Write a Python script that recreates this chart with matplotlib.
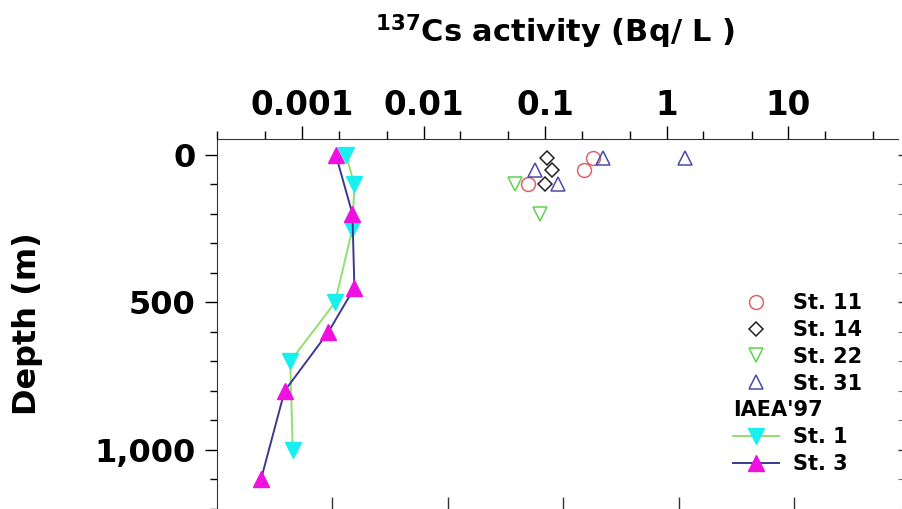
import numpy as np
from matplotlib import pyplot as plt
from matplotlib.lines import Line2D
from matplotlib.ticker import FixedLocator, LogLocator, MultipleLocator, NullFormatter

plt.rcParams['font.family'] = ['DejaVu Sans']
plt.rcParams['mathtext.default'] = 'regular'

# our stations (Bq/L vs depth m)
st11_x = [0.25, 0.21, 0.073]
st11_d = [10, 50, 100]
st14_x = [0.103, 0.113, 0.10]
st14_d = [10, 50, 100]
st22_x = [0.057, 0.091]
st22_d = [100, 200]
st31_x = [1.41, 0.30, 0.082, 0.128]
st31_d = [10, 10, 50, 100]

# IAEA'97 profiles
iaea1_x = [0.0023, 0.0027, 0.0026, 0.00187, 0.00080, 0.00084]
iaea1_d = [0, 100, 250, 500, 700, 1000]
iaea3_x = [0.0019, 0.0026, 0.0027, 0.00165, 0.00072, 0.00046]
iaea3_d = [0, 200, 450, 600, 800, 1100]

xticks = [0.001, 0.01, 0.1, 1, 10]
xticklabels = ['0.001', '0.01', '0.1', '1', '10']
yticks = [0, 500, 1000]
yticklabels = ['0', '500', '1,000']

W, H = 903, 509
fig = plt.figure(figsize=(W / 100, H / 100), dpi=100)
rect = [217 / W, 0, (898 - 217) / W, (509 - 139) / H]
ax = fig.add_axes(rect)

ax.plot(st11_x, st11_d, 'o', ms=10, mfc='none', mec='#d9646e', mew=1.1, label='St. 11')
ax.plot(st14_x, st14_d, 'D', ms=7, mfc='none', mec='#222222', mew=1.1, label='St. 14')
ax.plot(st22_x, st22_d, 'v', ms=10.5, mfc='none', mec='#5fd24f', mew=1.1, label='St. 22')
ax.plot(st31_x, st31_d, '^', ms=10.5, mfc='none', mec='#4b4ba6', mew=1.1, label='St. 31')
ax.add_line(Line2D([], [], ls='none', label=' '))
ax.plot(iaea1_x, iaea1_d, '-v', color='#8fe070', lw=1.4, ms=12, mfc='#18f0f0', mec='#18f0f0', label='St. 1')
ax.plot(iaea3_x, iaea3_d, '-^', color='#3a3a8c', lw=1.4, ms=12, mfc='#f010e0', mec='#f010e0', label='St. 3')

ax.set_xscale('log')
ax.set_xlim(2e-4, 80)
ax.set_ylim(1200, -54)

ax.xaxis.tick_top()
ax.xaxis.set_major_locator(FixedLocator(xticks))
ax.set_xticklabels(xticklabels)
ax.xaxis.set_minor_locator(LogLocator(base=10, subs=(2, 5)))
ax.xaxis.set_minor_formatter(NullFormatter())
ax.tick_params(axis='x', which='major', direction='out', length=9.5, width=1, pad=3, labelsize=23.5)
ax.tick_params(axis='x', which='minor', direction='out', length=5.5, width=1)
for t in ax.get_xticklabels():
    t.set_fontweight('bold')

ax.set_yticks(yticks)
ax.set_yticklabels(yticklabels)
ax.yaxis.set_minor_locator(MultipleLocator(100))
ax.tick_params(axis='y', which='major', direction='out', length=8.6, width=1, pad=7, labelsize=23)
ax.tick_params(axis='y', which='minor', direction='out', length=5, width=1)
for t in ax.get_yticklabels():
    t.set_fontweight('bold')

ax.spines['bottom'].set_visible(False)
ax.spines['right'].set_visible(False)
for s in ['top', 'left']:
    ax.spines[s].set_color('#333333')

ax.set_ylabel('Depth (m)', fontsize=23, fontweight='bold')
ax.yaxis.set_label_coords(-0.2555, 0.5)

# extra ticks on right and bottom edges
ax3 = fig.add_axes(rect, frameon=False)
ax3.patch.set_visible(False)
ax3.set_xlim(0, 681 / 115.5)
ax3.set_ylim(1200, -54)
ax3.set_xticks([1, 2, 3, 4, 5])
ax3.xaxis.set_major_formatter(NullFormatter())
ax3.tick_params(axis='x', direction='in', length=8.6, width=1, color='#333333')
ax3.yaxis.tick_right()
ax3.set_yticks(yticks)
ax3.yaxis.set_major_formatter(NullFormatter())
ax3.yaxis.set_minor_locator(MultipleLocator(100))
ax3.tick_params(axis='y', which='major', direction='out', length=5, width=1, color='#333333')
ax3.tick_params(axis='y', which='minor', direction='out', length=3, width=0.8, color='#777777')

fig.text(555 / W, 1 - 32 / H, r'$^{137}$Cs activity (Bq/ L )', fontsize=22,
         fontweight='bold', ha='center', va='center')

leg = ax.legend(loc='upper left', bbox_to_anchor=(733 / W, 1 - 293 / H),
                bbox_transform=fig.transFigure, frameon=False, borderaxespad=0,
                borderpad=0, handlelength=2.2, handletextpad=0.7, labelspacing=0.33,
                prop={'size': 15, 'weight': 'bold'})

fig.canvas.draw()
blank = leg.get_texts()[4]
bb = blank.get_window_extent()
fig.text(733 / W, (bb.y0 + bb.y1) / 2 / H, "IAEA'97", fontsize=15, fontweight='bold',
         ha='left', va='center')

fig.savefig('out.png', dpi=100)
